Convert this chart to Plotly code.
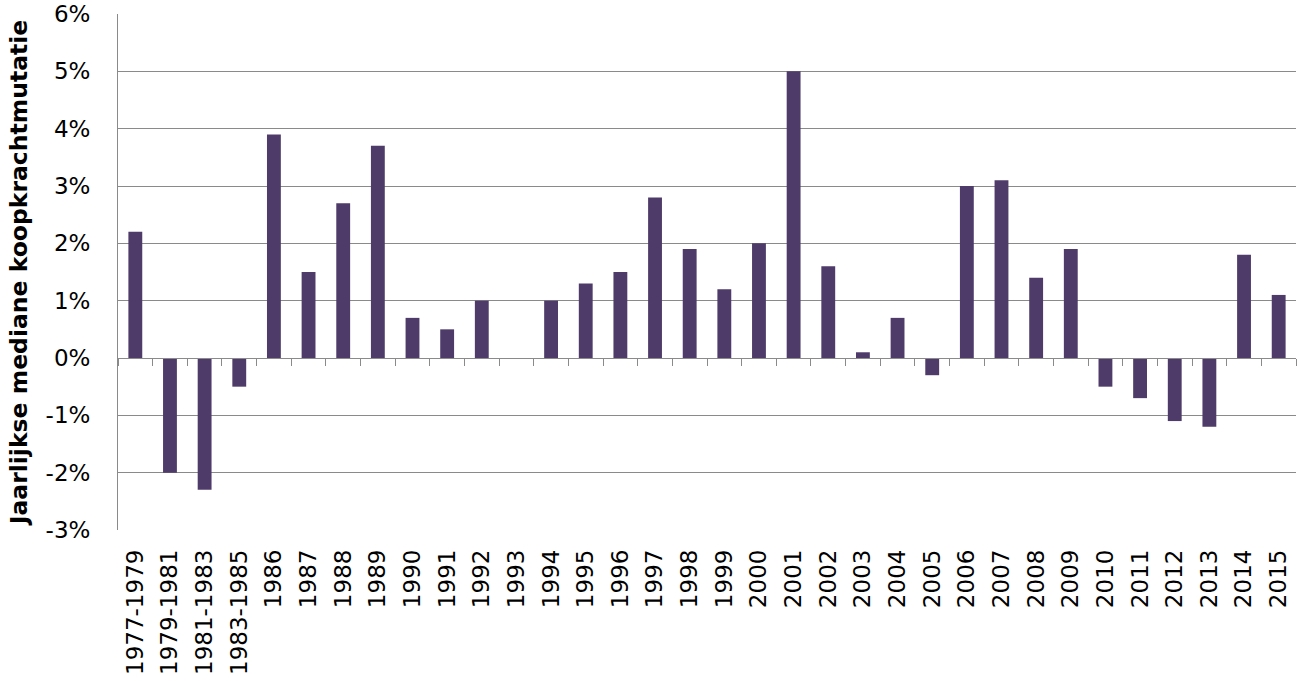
import plotly.graph_objects as go

categories = ["1977-1979", "1979-1981", "1981-1983", "1983-1985", "1986", "1987", "1988", "1989",
              "1990", "1991", "1992", "1993", "1994", "1995", "1996", "1997", "1998", "1999",
              "2000", "2001", "2002", "2003", "2004", "2005", "2006", "2007", "2008", "2009",
              "2010", "2011", "2012", "2013", "2014", "2015"]
values = [2.2, -2.0, -2.3, -0.5, 3.9, 1.5, 2.7, 3.7,
          0.7, 0.5, 1.0, 0.0, 1.0, 1.3, 1.5, 2.8, 1.9, 1.2,
          2.0, 5.0, 1.6, 0.1, 0.7, -0.3, 3.0, 3.1, 1.4, 1.9,
          -0.5, -0.7, -1.1, -1.2, 1.8, 1.1]
y_tickvals = [-3, -2, -1, 0, 1, 2, 3, 4, 5, 6]
y_ticktext = ["-3%", "-2%", "-1%", "0%", "1%", "2%", "3%", "4%", "5%", "6%"]
y_title = "Jaarlijkse mediane koopkrachtmutatie"

grey = "#8a8a8a"
font = "DejaVu Sans, Verdana, sans-serif"

fig = go.Figure()
fig.add_trace(go.Bar(x=categories, y=values, marker=dict(color="#4f3b6a", line=dict(width=0)),
                     hoverinfo="x+y"))
# invisible helper trace for the category axis drawn at 0%
fig.add_trace(go.Scatter(x=categories, y=values, mode="none", xaxis="x2", yaxis="y",
                         hoverinfo="skip", showlegend=False))

fig.update_layout(
    width=1299, height=681,
    margin=dict(l=118, r=3, t=14, b=151),
    plot_bgcolor="white", paper_bgcolor="white",
    showlegend=False,
    bargap=0.6,
    font=dict(family=font, size=23, color="black"),
    xaxis=dict(type="category", categoryorder="array", categoryarray=categories,
               range=[-0.5, len(categories) - 0.5], automargin=False,
               showgrid=False, showline=False, zeroline=False, ticks="",
               tickangle=-90, tickfont=dict(size=23), ticklabelstandoff=14),
    xaxis2=dict(type="category", categoryorder="array", categoryarray=categories,
                range=[-0.5, len(categories) - 0.5],
                overlaying="x", anchor="free", position=1/3, side="bottom",
                showgrid=False, zeroline=False, showticklabels=False,
                showline=True, linecolor=grey, linewidth=1,
                ticks="outside", tickson="boundaries", ticklen=7, tickcolor=grey, tickwidth=1),
    yaxis=dict(range=[-3, 6], tickvals=y_tickvals, ticktext=y_ticktext,
               showgrid=True, gridcolor=grey, gridwidth=1,
               showline=True, linecolor=grey, linewidth=1, zeroline=False, ticks="",
               tickfont=dict(size=23), ticklabelstandoff=22, automargin=False,
               title=dict(text=y_title, font=dict(size=23.5, family="DejaVu Sans", weight="bold"),
                          standoff=11)),
)

fig.write_html("out.html")
